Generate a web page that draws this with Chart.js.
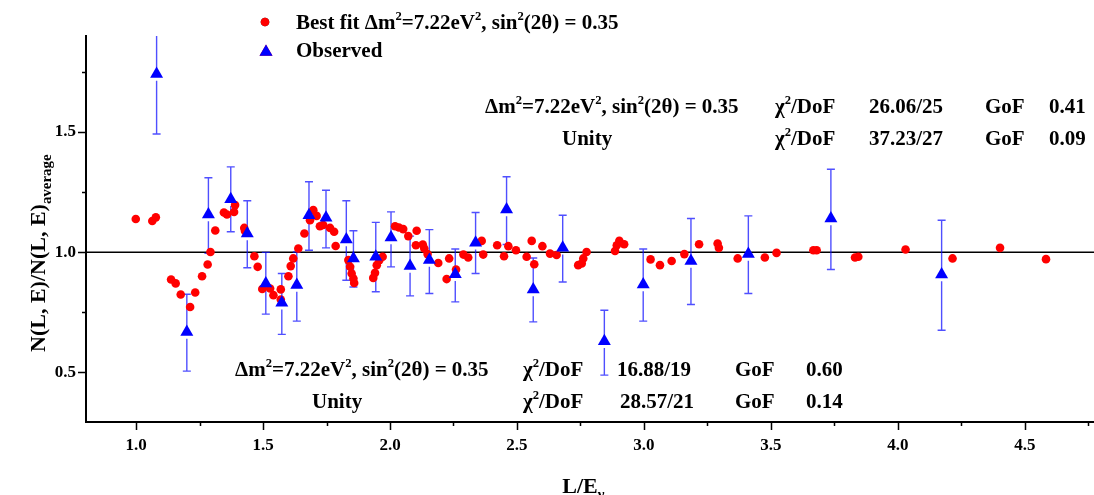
<!DOCTYPE html>
<html>
<head>
<meta charset="utf-8">
<script src="https://cdn.jsdelivr.net/npm/chart.js@4"></script>
<style>
  html, body { margin: 0; padding: 0; background: #fff; }
  canvas { display: block; }
</style>
</head>
<body>
<canvas id="oscChart" width="1094" height="495"></canvas>
<script>
// Best fit (red dots)
const fitX = [0.999, 1.064, 1.078, 1.138, 1.156, 1.176, 1.213, 1.233, 1.260, 1.282, 1.293, 1.312, 1.346, 1.358, 1.386, 1.390,
  1.426, 1.429, 1.466, 1.479, 1.497, 1.528, 1.541, 1.570, 1.570, 1.600, 1.609, 1.619, 1.639, 1.663, 1.685, 1.698, 1.711,
  1.724, 1.737, 1.764, 1.780, 1.786, 1.836, 1.843, 1.849, 1.856, 1.859, 1.934, 1.941, 1.948, 1.958, 1.971, 2.020, 2.035,
  2.052, 2.072, 2.105, 2.102, 2.129, 2.135, 2.148, 2.190, 2.223, 2.233, 2.260, 2.289, 2.308, 2.361, 2.367, 2.422, 2.449,
  2.466, 2.496, 2.538, 2.558, 2.568, 2.600, 2.630, 2.656, 2.741, 2.755, 2.761, 2.774, 2.886, 2.893, 2.903, 2.922, 3.026,
  3.063, 3.109, 3.159, 3.217, 3.290, 3.295, 3.369, 3.476, 3.522, 3.667, 3.680, 3.831, 3.844, 4.030, 4.215, 4.402, 4.583];
const fitY = [1.138, 1.130, 1.145, 0.886, 0.870, 0.824, 0.772, 0.832, 0.900, 0.949, 1.001, 1.090, 1.165, 1.157, 1.167, 1.196,
  1.101, 1.088, 0.983, 0.939, 0.847, 0.849, 0.821, 0.845, 0.803, 0.900, 0.942, 0.974, 1.015, 1.078, 1.133, 1.175, 1.151,
  1.108, 1.113, 1.101, 1.085, 1.026, 0.967, 0.939, 0.911, 0.890, 0.872, 0.893, 0.914, 0.946, 0.967, 0.981, 1.108, 1.103,
  1.096, 1.067, 1.089, 1.029, 1.032, 1.015, 0.992, 0.955, 0.888, 0.974, 0.928, 0.990, 0.978, 1.047, 0.990, 1.029, 0.983,
  1.025, 1.008, 0.981, 1.047, 0.950, 1.025, 0.994, 0.988, 0.946, 0.953, 0.974, 1.001, 1.005, 1.029, 1.047, 1.033, 0.970,
  0.946, 0.963, 0.992, 1.033, 1.036, 1.018, 0.974, 0.978, 0.997, 1.008, 1.008, 0.978, 0.981, 1.011, 0.974, 1.018, 0.971];

// Observed (blue triangles) with error bars
const obsX = [1.081, 1.200, 1.285, 1.373, 1.438, 1.511, 1.574, 1.633, 1.681, 1.748, 1.828, 1.856, 1.944, 2.004,
  2.079, 2.155, 2.257, 2.337, 2.459, 2.564, 2.680, 2.844, 2.997, 3.185, 3.411, 3.736, 4.172];
const obsY = [1.742, 0.668, 1.157, 1.220, 1.078, 0.870, 0.789, 0.863, 1.154, 1.143, 1.053, 0.974, 0.981, 1.061,
  0.942, 0.967, 0.908, 1.039, 1.178, 0.845, 1.018, 0.629, 0.865, 0.963, 0.992, 1.140, 0.907];
const obsHi = [1.990, 0.825, 1.310, 1.355, 1.214, 0.999, 0.911, 1.001, 1.293, 1.258, 1.214, 1.089, 1.124, 1.168,
  1.067, 1.094, 1.013, 1.165, 1.314, 0.976, 1.154, 0.758, 1.013, 1.140, 1.151, 1.345, 1.133];
const obsLo = [1.492, 0.505, 0.995, 1.085, 0.935, 0.742, 0.658, 0.713, 1.008, 1.018, 0.883, 0.855, 0.835, 0.939,
  0.818, 0.828, 0.793, 0.911, 1.032, 0.710, 0.876, 0.488, 0.713, 0.782, 0.828, 0.928, 0.675];

// tick labels (minor ticks sit halfway between)
const xTickLabels = ["1.0", "1.5", "2.0", "2.5", "3.0", "3.5", "4.0", "4.5"];
const yTickLabels = ["0.5", "1.0", "1.5"];

// text (^{} = superscript, _{} = subscript)
const fitLabel = "\u0394m^{2}=7.22eV^{2}, sin^{2}(2\u03b8) = 0.35";
const legendLabels = ["Best fit " + fitLabel, "Observed"];
const statsTop = [
  [fitLabel, "\u03c7^{2}/DoF", "26.06/25", "GoF", "0.41"],
  ["Unity", "\u03c7^{2}/DoF", "37.23/27", "GoF", "0.09"]
];
const statsBottom = [
  [fitLabel, "\u03c7^{2}/DoF", "16.88/19", "GoF", "0.60"],
  ["Unity", "\u03c7^{2}/DoF", "28.57/21", "GoF", "0.14"]
];
const xTitle = "L/E_{\u03bd}";
const yTitle = "N(L, E)/N(L, E)_{average}";

const SERIF = '"Liberation Serif", "Times New Roman", serif';
const bold = size => "bold " + size + "px " + SERIF;

function parseRich(str) {
  const parts = [];
  const re = /([\^_])\{([^}]*)\}|([^\^_]+)/g;
  let m;
  while ((m = re.exec(str))) {
    if (m[3]) parts.push({ text: m[3], mode: "n" });
    else parts.push({ text: m[2], mode: m[1] === "^" ? "sup" : "sub" });
  }
  return parts;
}

function drawRich(ctx, str, x, y, size, subScale) {
  let cx = x;
  for (const p of parseRich(str)) {
    let s = size, dy = 0;
    if (p.mode === "sup") { s = size * 0.6; dy = -size * 0.42; }
    if (p.mode === "sub") { s = size * (subScale || 0.65); dy = size * 0.28; }
    ctx.font = bold(s);
    ctx.fillText(p.text, cx, y + dy);
    cx += ctx.measureText(p.text).width;
  }
  return cx - x;
}

// major ticks from the labels, plus a minor tick after each one
function tickValues(labels) {
  const major = labels.map(Number);
  const step = major[1] - major[0];
  const out = [];
  major.forEach(v => {
    out.push({ value: v, major: true });
    out.push({ value: v + step / 2, major: false });
  });
  return out;
}
const labelOf = (labels, v) => labels.find(l => Math.abs(Number(l) - v) < 1e-6) || "";

const errorBars = {
  id: "errorBars",
  beforeDatasetsDraw(chart) {
    const { ctx, chartArea: a, scales: { x, y } } = chart;
    const r = chart.data.datasets[1].pointRadius;
    ctx.save();
    ctx.beginPath();
    ctx.rect(a.left, a.top, a.right - a.left, a.bottom - a.top);
    ctx.clip();
    // unity line
    ctx.strokeStyle = "#000";
    ctx.lineWidth = 1.6;
    ctx.beginPath();
    ctx.moveTo(a.left, y.getPixelForValue(1));
    ctx.lineTo(a.right, y.getPixelForValue(1));
    ctx.stroke();
    ctx.strokeStyle = "rgba(20,20,255,0.75)";
    ctx.lineWidth = 1.4;
    obsX.forEach((v, i) => {
      const px = x.getPixelForValue(v);
      const py = y.getPixelForValue(obsY[i]);
      const ph = y.getPixelForValue(obsHi[i]);
      const pl = y.getPixelForValue(obsLo[i]);
      ctx.beginPath();
      ctx.moveTo(px, ph); ctx.lineTo(px, py);
      ctx.moveTo(px, py + r / 2 + 3); ctx.lineTo(px, pl);
      ctx.moveTo(px - 4, ph); ctx.lineTo(px + 4, ph);
      ctx.moveTo(px - 4, pl); ctx.lineTo(px + 4, pl);
      ctx.stroke();
    });
    ctx.restore();
  }
};

const decorations = {
  id: "decorations",
  afterDraw(chart) {
    const { ctx, chartArea: a, scales: { x, y } } = chart;
    ctx.save();
    // tick marks, major and minor
    ctx.strokeStyle = "#000";
    ctx.lineWidth = 1.5;
    ctx.beginPath();
    x.ticks.forEach(t => {
      const px = Math.round(x.getPixelForValue(t.value)) + 0.5;
      if (px > a.right) return;
      ctx.moveTo(px, a.bottom); ctx.lineTo(px, a.bottom + (t.major ? 8 : 4));
    });
    y.ticks.forEach(t => {
      const py = Math.round(y.getPixelForValue(t.value)) + 0.5;
      if (py < a.top || py > a.bottom) return;
      ctx.moveTo(a.left, py); ctx.lineTo(a.left - (t.major ? 8 : 4), py);
    });
    ctx.stroke();

    ctx.fillStyle = "#000";
    ctx.textBaseline = "alphabetic";
    ctx.textAlign = "left";

    // legend
    const ds = chart.data.datasets;
    Chart.helpers.drawPoint(ctx, { pointStyle: "circle", radius: ds[0].pointRadius, borderWidth: 0 }, 265, 22);
    ctx.fillStyle = ds[0].backgroundColor; ctx.fill();
    Chart.helpers.drawPoint(ctx, { pointStyle: "triangle", radius: ds[1].pointRadius, borderWidth: 0 }, 266, 52);
    ctx.fillStyle = ds[1].backgroundColor; ctx.fill();
    ctx.fillStyle = "#000";
    drawRich(ctx, legendLabels[0], 296, 29, 21);
    drawRich(ctx, legendLabels[1], 296, 57, 21);

    // fit statistics
    const colsTop = [[485, 775, 869, 985, 1049], [562, 775, 869, 985, 1049]];
    const colsBottom = [[235, 523, 617, 735, 806], [312, 523, 620, 735, 806]];
    statsTop.forEach((row, r) => row.forEach((s, c) => drawRich(ctx, s, colsTop[r][c], 113 + r * 32, 21)));
    statsBottom.forEach((row, r) => row.forEach((s, c) => drawRich(ctx, s, colsBottom[r][c], 376 + r * 32, 21)));

    // axis titles
    ctx.font = bold(22);
    const wx = ctx.measureText("L/E").width;
    drawRich(ctx, xTitle, 580 - wx / 2, 493, 22, 0.68);
    ctx.translate(45, 352);
    ctx.rotate(-Math.PI / 2);
    drawRich(ctx, yTitle, 0, 0, 22, 0.68);
    ctx.restore();
  }
};

const tickFont = { family: SERIF, weight: "bold", size: 17 };

new Chart(document.getElementById("oscChart").getContext("2d"), {
  type: "scatter",
  data: {
    datasets: [
      {
        label: "Best fit",
        data: fitX.map((v, i) => ({ x: v, y: fitY[i] })),
        pointStyle: "circle",
        pointRadius: 4.3,
        backgroundColor: "#ff0000",
        borderColor: "#ff0000",
        borderWidth: 0,
        order: 1
      },
      {
        label: "Observed",
        data: obsX.map((v, i) => ({ x: v, y: obsY[i] })),
        pointStyle: "triangle",
        pointRadius: 7.5,
        backgroundColor: "#0000ff",
        borderColor: "#0000ff",
        borderWidth: 0,
        order: 0
      }
    ]
  },
  options: {
    responsive: false,
    animation: false,
    devicePixelRatio: 1,
    events: [],
    layout: { autoPadding: false, padding: { top: 36, right: 0, bottom: 0, left: 0 } },
    plugins: { legend: { display: false }, tooltip: { enabled: false } },
    scales: {
      x: {
        type: "linear",
        min: 0.803,
        max: 4.772,
        afterBuildTicks: s => { s.ticks = tickValues(xTickLabels); },
        afterFit: s => { s.height = 73; s.paddingLeft = 0; s.paddingRight = 0; },
        border: { display: true, color: "#000", width: 2 },
        grid: { display: true, drawOnChartArea: false, drawTicks: true, tickLength: 8, tickColor: "rgba(0,0,0,0)" },
        ticks: {
          padding: 5, color: "#000", font: tickFont, maxRotation: 0, autoSkip: false,
          callback: v => labelOf(xTickLabels, v)
        }
      },
      y: {
        min: 0.293,
        max: 1.9,
        afterBuildTicks: s => { s.ticks = tickValues(yTickLabels); },
        afterFit: s => { s.width = 86; s.paddingTop = 0; s.paddingBottom = 0; },
        border: { display: true, color: "#000", width: 2 },
        grid: { display: true, drawOnChartArea: false, drawTicks: true, tickLength: 8, tickColor: "rgba(0,0,0,0)" },
        ticks: {
          padding: 2, color: "#000", font: tickFont, autoSkip: false,
          callback: v => labelOf(yTickLabels, v)
        }
      }
    }
  },
  plugins: [errorBars, decorations]
});
</script>
</body>
</html>
